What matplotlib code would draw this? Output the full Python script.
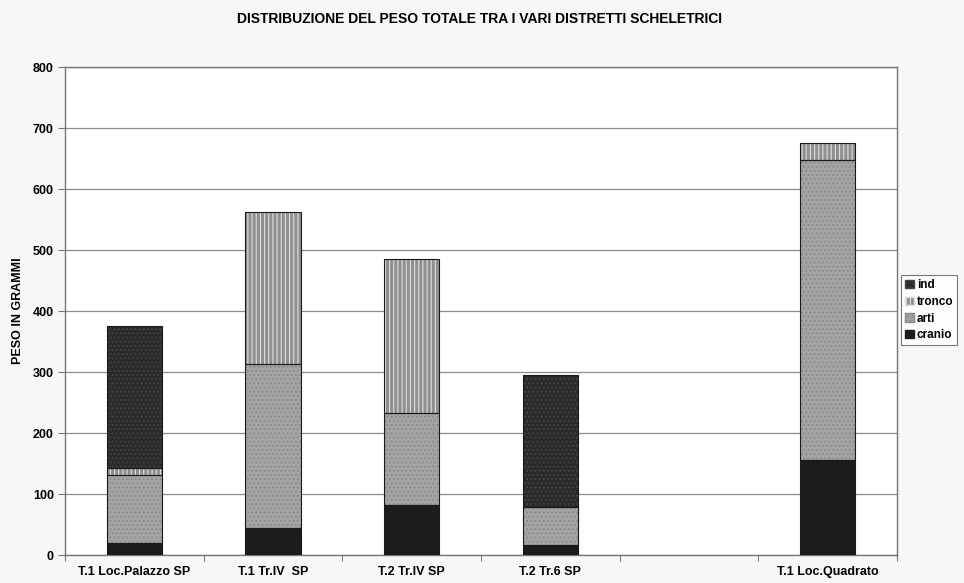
import matplotlib
matplotlib.use("Agg")
import matplotlib.pyplot as plt
import numpy as np
from matplotlib.patches import Patch

plt.rcParams['font.family'] = ['Liberation Sans', 'DejaVu Sans']
plt.rcParams['hatch.linewidth'] = 0.8

categories = ["T.1 Loc.Palazzo SP", "T.1 Tr.IV  SP", "T.2 Tr.IV SP", "T.2 Tr.6 SP", "", "T.1 Loc.Quadrato"]
cranio = [20, 45, 82, 16, 0, 156]
arti = [111, 268, 151, 63, 0, 491]
tronco = [12, 250, 252, 0, 0, 29]
ind = [232, 0, 0, 216, 0, 0]

series = [
    ("cranio", cranio, "#1c1c1c", None, "#1c1c1c"),
    ("arti", arti, "#a3a3a3", "....", "#8a8a8a"),
    ("tronco", tronco, "#8f8f8f", "||||", "#dedede"),
    ("ind", ind, "#2b2b2b", "....", "#444444"),
]

fig = plt.figure(figsize=(9.64, 5.83), dpi=100)
fig.patch.set_facecolor("#f7f7f7")
ax = fig.add_axes([0.0674, 0.048, 0.863, 0.837])
ax.set_facecolor("white")

x = np.arange(len(categories))
bottom = np.zeros(len(categories))
handles = []
for name, vals, face, hatch, hcol in series:
    vals = np.array(vals, dtype=float)
    keep = vals > 0
    ax.bar(x[keep], vals[keep], width=0.4, bottom=bottom[keep], color=face,
           hatch=hatch, edgecolor=hcol, linewidth=0, zorder=3)
    ax.bar(x[keep], vals[keep], width=0.4, bottom=bottom[keep], fill=False,
           edgecolor="#1a1a1a", linewidth=0.8, zorder=4)
    handles.append(Patch(facecolor=face, hatch=hatch, edgecolor=hcol, label=name))
    bottom += vals

ax.set_xlim(-0.5, len(categories) - 0.5)
ax.set_ylim(0, 800)
ax.set_yticks(np.arange(0, 801, 100))
ax.yaxis.grid(True, color="#8c8c8c", linewidth=0.9, zorder=0)
ax.set_axisbelow(True)

ax.set_xticks(np.arange(-0.5, len(categories), 1.0))
ax.set_xticklabels([])
ax.set_xticks(x, minor=True)
ax.set_xticklabels(categories, minor=True, fontsize=9, fontweight="bold")
ax.tick_params(axis="x", which="minor", length=0, pad=8)
ax.tick_params(axis="x", which="major", length=4, color="#777777", direction="out")
ax.tick_params(axis="y", length=5, color="#777777", labelsize=9, pad=3)
for lbl in ax.get_yticklabels():
    lbl.set_fontweight("bold")

for s in ax.spines.values():
    s.set_color("#777777")
    s.set_linewidth(1.0)

ax.set_ylabel("PESO IN GRAMMI", fontsize=9, fontweight="bold", labelpad=6)
fig.text(0.497, 0.968, "DISTRIBUZIONE DEL PESO TOTALE TRA I VARI DISTRETTI SCHELETRICI",
         ha="center", va="center", fontsize=10, fontweight="bold")

leg = fig.legend(handles=handles[::-1], loc="center left",
                 bbox_to_anchor=(0.935, 0.468), frameon=True,
                 prop={"size": 8.5, "weight": "bold"},
                 fancybox=False, edgecolor="#555555", handlelength=0.7,
                 handleheight=0.7, handletextpad=0.25, borderpad=0.35,
                 labelspacing=0.4, borderaxespad=0)
leg.get_frame().set_linewidth(0.8)

fig.savefig("out.png", dpi=100, facecolor=fig.get_facecolor())
